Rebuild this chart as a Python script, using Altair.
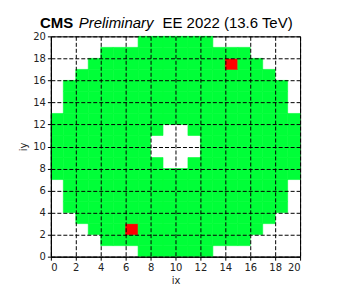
import altair as alt
import pandas as pd

# occupancy map of EE supercrystals (ix, iy in 0..19)
iy_rows = list(range(20))
ix_min = [7, 4, 3, 2, 1, 1, 1, 0, 0, 0, 0, 0, 0, 1, 1, 1, 2, 3, 4, 7]
ix_max = [12, 15, 16, 17, 18, 18, 18, 19, 19, 19, 19, 19, 19, 18, 18, 18, 17, 16, 15, 12]
hole_ix = [9, 10, 8, 9, 10, 11, 8, 9, 10, 11, 9, 10]
hole_iy = [8, 8, 9, 9, 9, 9, 10, 10, 10, 10, 11, 11]
bad_ix = [6, 14]
bad_iy = [2, 17]
status_labels = ["good", "bad"]
status_colors = ["#00ff38", "#ff0000"]
tick_values = list(range(0, 21, 2))

hole = set(zip(hole_ix, hole_iy))
bad = set(zip(bad_ix, bad_iy))
records = []
for iy, lo, hi in zip(iy_rows, ix_min, ix_max):
    for ix in range(lo, hi + 1):
        if (ix, iy) in hole:
            continue
        records.append({
            "ix": ix, "ix2": ix + 1, "iy": iy, "iy2": iy + 1,
            "status": status_labels[1] if (ix, iy) in bad else status_labels[0],
        })
df = pd.DataFrame(records)

color_scale = alt.Scale(domain=status_labels, range=status_colors)
axis_common = dict(
    values=tick_values, format="d", grid=True, gridColor="black", gridDash=[4, 2],
    gridWidth=1, gridOpacity=1, tickColor="black", tickSize=3.5, domainColor="black",
    labelFontSize=10, labelFont="DejaVu Sans", labelColor="#222", labelPadding=2,
    titleFont="DejaVu Sans", titleFontSize=10, titleFontWeight="normal", titleColor="#222",
    zindex=1,
)

cells = alt.Chart(df).mark_rect(strokeWidth=0.6).encode(
    x=alt.X("ix:Q", scale=alt.Scale(domain=[0, 20], nice=False, zero=False),
            axis=alt.Axis(title="ix", titlePadding=3, **axis_common)),
    x2="ix2:Q",
    y=alt.Y("iy:Q", scale=alt.Scale(domain=[0, 20], nice=False, zero=False),
            axis=alt.Axis(title="iy", titlePadding=4, **axis_common)),
    y2="iy2:Q",
    color=alt.Color("status:N", scale=color_scale, legend=None),
    stroke=alt.Stroke("status:N", scale=color_scale, legend=None),
)

def title_part(txt, xpos, weight, style):
    return alt.Chart(pd.DataFrame({"t": [txt]})).mark_text(
        align="left", baseline="alphabetic", font="Liberation Sans", fontSize=15,
        fontWeight=weight, fontStyle=style, color="black",
    ).encode(text="t:N", x=alt.value(xpos), y=alt.value(-8))

chart = alt.layer(
    cells,
    title_part("CMS", -11, "bold", "normal"),
    title_part("Preliminary", 28, "normal", "italic"),
    title_part("EE 2022 (13.6 TeV)", 112, "normal", "normal"),
).properties(
    width=250, height=221,
    autosize=alt.AutoSizeParams(type="none"),
    padding={"left": 43, "top": 28, "right": 30, "bottom": 35},
).configure_view(stroke="black", strokeWidth=1)

chart.save("out.html", embed_options={"renderer": "svg", "actions": False})
